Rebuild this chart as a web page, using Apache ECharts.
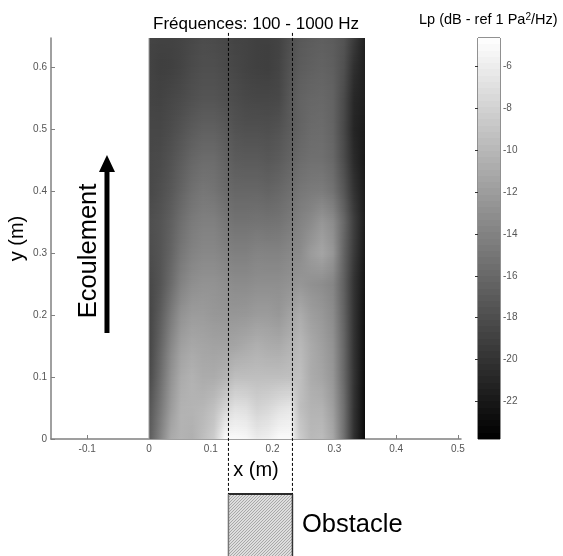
<!DOCTYPE html>
<html><head><meta charset="utf-8">
<style>html,body{margin:0;padding:0;background:#fff}#c{width:563px;height:556px}</style>
<script src="https://cdn.jsdelivr.net/npm/echarts@6/dist/echarts.min.js"></script>
</head><body><div id="c"></div>
<script>
const xNodes=[0,0.0175,0.035,0.0525,0.07,0.0875,0.105,0.1225,0.14,0.1575,0.175,0.1925,0.21,0.2275,0.245,0.2625,0.28,0.2975,0.315,0.3325,0.35];
const yNodes=[0.65,0.60,0.55,0.50,0.45,0.40,0.35,0.30,0.25,0.20,0.15,0.10,0.05,0];
const lpY065=[-18.7,-18.8,-18.8,-18.7,-18.4,-18.1,-18.2,-18.4,-18.7,-18.8,-19.0,-19.0,-18.8,-17.9,-17.2,-16.9,-16.7,-16.9,-17.5,-19.3,-21.4];
const lpY060=[-18.8,-19.1,-19.0,-18.7,-18.2,-17.9,-17.9,-18.2,-18.5,-18.8,-19.0,-19.1,-18.7,-17.6,-16.9,-16.6,-16.4,-16.7,-17.8,-20.2,-21.5];
const lpY055=[-18.7,-18.8,-18.5,-18.2,-17.8,-17.5,-17.5,-17.8,-18.1,-18.4,-18.5,-18.5,-18.4,-17.2,-16.4,-16.1,-16.0,-16.4,-18.2,-20.8,-21.5];
const lpY050=[-18.5,-18.5,-18.1,-17.6,-17.0,-16.6,-16.6,-17.0,-17.6,-17.8,-17.8,-17.9,-17.6,-16.9,-16.3,-15.8,-15.7,-16.3,-18.4,-21.0,-21.8];
const lpY045=[-18.4,-18.2,-17.6,-16.9,-16.1,-15.7,-15.7,-16.3,-16.9,-17.0,-17.0,-17.2,-16.9,-16.3,-15.7,-15.4,-15.4,-16.0,-18.1,-20.6,-22.0];
const lpY040=[-18.4,-17.9,-17.2,-16.3,-15.4,-14.9,-15.1,-15.7,-16.1,-16.1,-16.1,-16.3,-16.0,-15.5,-14.9,-14.6,-14.5,-15.2,-17.3,-20.0,-21.8];
const lpY035=[-17.9,-17.5,-16.6,-15.5,-14.6,-14.2,-14.2,-14.8,-15.2,-15.2,-15.1,-15.2,-15.1,-14.6,-14.0,-13.4,-12.5,-13.3,-16.0,-19.1,-21.7];
const lpY030=[-18.1,-17.5,-16.3,-14.9,-14.0,-13.6,-13.6,-14.0,-14.2,-14.2,-13.9,-14.0,-14.0,-13.6,-13.3,-12.1,-11.4,-12.5,-16.3,-19.4,-22.0];
const lpY025=[-18.5,-17.5,-15.7,-14.0,-13.1,-12.8,-12.8,-13.1,-13.3,-13.3,-13.1,-13.1,-13.1,-12.8,-12.5,-12.9,-13.2,-13.8,-16.6,-20.0,-22.3];
const lpY020=[-18.7,-16.9,-14.6,-12.8,-12.1,-12.1,-12.4,-12.5,-12.5,-12.4,-12.1,-12.1,-12.4,-11.6,-10.9,-11.9,-12.4,-13.3,-16.4,-20.0,-22.6];
const lpY015=[-18.7,-16.3,-13.6,-11.8,-11.2,-11.4,-11.6,-11.6,-11.4,-11.0,-10.6,-10.9,-11.0,-10.4,-9.9,-11.0,-11.8,-12.8,-16.1,-20.0,-22.7];
const lpY010=[-18.4,-15.7,-12.8,-11.0,-10.4,-10.9,-10.9,-10.4,-9.5,-9.5,-9.5,-9.5,-9.5,-9.4,-9.4,-10.9,-11.4,-12.5,-16.0,-19.9,-22.9];
const lpY005=[-17.5,-14.9,-12.1,-10.4,-10.3,-10.1,-9.4,-7.9,-6.9,-7.1,-8.0,-7.6,-6.9,-6.5,-9.5,-10.3,-10.4,-11.9,-15.5,-20.0,-23.0];
const lpY000=[-17.0,-14.0,-11.0,-10.3,-10.6,-9.5,-8.4,-5.0,-5.0,-5.2,-6.1,-5.8,-5.0,-5.0,-8.4,-9.9,-9.7,-11.2,-15.4,-20.2,-23.2];
const lpRows=[lpY065,lpY060,lpY055,lpY050,lpY045,lpY040,lpY035,lpY030,lpY025,lpY020,lpY015,lpY010,lpY005,lpY000];

const xTicks=[-0.1,0,0.1,0.2,0.3,0.4,0.5];
const yTicks=[0,0.1,0.2,0.3,0.4,0.5,0.6];
const cbTicks=[-22,-20,-18,-16,-14,-12,-10,-8,-6];
const cbMin=-23.8, cbMax=-4.63;
const obstacleEdges=[0.1286,0.2322];
const dashSpanY=[-0.0887,0.655];
const obstacleSpanY=[-0.19,-0.0887];
const arrowX=-0.068, arrowSpanY=[0.171,0.4306,0.458];
const FONT='"Liberation Sans",Arial,sans-serif';

function grey(v){
  const g=Math.max(0,Math.min(255,Math.round((v-cbMin)/(cbMax-cbMin)*255)));
  return 'rgb('+g+','+g+','+g+')';
}
const cells=[];
for(let r=0;r<yNodes.length-1;r++)for(let c=0;c<xNodes.length-1;c++){
  cells.push([xNodes[c],yNodes[r+1],xNodes[c+1],yNodes[r],lpRows[r][c],lpRows[r][c+1],lpRows[r+1][c],lpRows[r+1][c+1]]);
}
function renderCell(p,api){
  const a=api.coord([api.value(0),api.value(3)]), b=api.coord([api.value(2),api.value(1)]);
  const tl=api.value(4),tr=api.value(5),bl=api.value(6),br=api.value(7);
  const x0=Math.round(a[0]),x1=Math.round(b[0]),y0=Math.round(a[1]),y1=Math.round(b[1]);
  const kids=[],n=Math.max(1,y1-y0>>1);
  for(let i=0;i<n;i++){
    const t=(i+0.5)/n,ya=y0+Math.round((y1-y0)*i/n),yb=y0+Math.round((y1-y0)*(i+1)/n);
    const l=tl+(bl-tl)*t,rr=tr+(br-tr)*t;
    kids.push({type:'rect',silent:true,shape:{x:x0,y:ya,width:x1-x0,height:yb-ya},
      style:{fill:new echarts.graphic.LinearGradient(0,0,1,0,[{offset:0,color:grey(l)},{offset:1,color:grey(rr)}])}});
  }
  return {type:'group',children:kids};
}
const cbLevels=[];
for(let i=0;i<64;i++)cbLevels.push([cbMin+(cbMax-cbMin)*i/64,cbMin+(cbMax-cbMin)*(i+1)/64]);

const hatch=document.createElement('canvas');hatch.width=hatch.height=3;
(function(){const h=hatch.getContext('2d');h.fillStyle='#dedede';h.fillRect(0,0,3,3);h.fillStyle='#a8a8a8';
 h.fillRect(2,0,1,1);h.fillRect(1,1,1,1);h.fillRect(0,2,1,1);})();

const tickLabel={color:'#555',fontSize:10,fontFamily:FONT};
const chart=echarts.init(document.getElementById('c'),null,{renderer:'canvas'});
chart.setOption({
  animation:false,backgroundColor:'#fff',
  title:{text:'Fréquences: 100 - 1000 Hz',left:251,top:11,textAlign:'center',
    textStyle:{fontFamily:FONT,fontSize:17,fontWeight:'normal',color:'#000'}},
  grid:[{left:51,top:38,width:410,height:401,show:false,outerBoundsMode:'none',containLabel:false},
        {left:478,top:38,width:22,height:401,show:true,borderColor:'#222',borderWidth:1,backgroundColor:'transparent',outerBoundsMode:'none',containLabel:false}],
  xAxis:[
    {gridIndex:0,type:'value',min:-0.1586,max:0.505,splitLine:{show:false},
     name:'x (m)',nameLocation:'middle',nameGap:21,nameTextStyle:{fontFamily:FONT,fontSize:20,color:'#000'},
     axisLine:{show:true,onZero:false,lineStyle:{color:'#808080',width:1.5}},
     axisTick:{show:true,inside:true,length:4,customValues:xTicks,lineStyle:{color:'#808080'}},
     axisLabel:Object.assign({customValues:xTicks,margin:5,formatter:v=>String(v)},tickLabel)},
    {gridIndex:1,type:'value',min:0,max:1,show:false}
  ],
  yAxis:[
    {gridIndex:0,type:'value',min:0,max:0.6468,splitLine:{show:false},
     name:'y (m)',nameLocation:'middle',nameGap:24,nameMoveOverlap:false,nameTextStyle:{fontFamily:FONT,fontSize:20,color:'#000'},
     axisLine:{show:true,onZero:false,lineStyle:{color:'#808080',width:1.5}},
     axisTick:{show:true,inside:true,length:4,customValues:yTicks,lineStyle:{color:'#808080'}},
     axisLabel:Object.assign({customValues:yTicks,margin:4,formatter:v=>String(v)},tickLabel)},
    {gridIndex:1,type:'value',min:cbMin,max:cbMax,position:'right',splitLine:{show:false},
     axisLine:{show:false},
     axisTick:{show:true,inside:true,length:3,customValues:cbTicks,lineStyle:{color:'#333'}},
     axisLabel:Object.assign({customValues:cbTicks,margin:3,formatter:v=>String(v)},tickLabel)},
    {gridIndex:1,type:'value',min:cbMin,max:cbMax,position:'left',splitLine:{show:false},
     axisLine:{show:false},axisLabel:{show:false},
     axisTick:{show:true,inside:true,length:3,customValues:cbTicks,lineStyle:{color:'#333'}}}
  ],
  series:[
    {type:'custom',name:'Lp',xAxisIndex:0,yAxisIndex:0,clip:true,silent:true,renderItem:renderCell,data:cells,z:1},
    {type:'custom',name:'heatEdge',xAxisIndex:0,yAxisIndex:0,clip:false,silent:true,z:2,data:[[0]],
     renderItem:(p,api)=>{
       const a=api.coord([0,0.6468]),b=api.coord([0,0]);
       return {type:'line',shape:{x1:a[0],y1:a[1],x2:b[0],y2:b[1]},style:{stroke:'#a0a0a0',lineWidth:1}};
     }},
    {type:'custom',name:'colorbar',xAxisIndex:1,yAxisIndex:1,clip:true,silent:true,z:1,data:cbLevels,
     renderItem:(p,api)=>{
       const a=api.coord([0,api.value(1)]),b=api.coord([1,api.value(0)]);
       const y0=Math.round(a[1]),y1=Math.round(b[1]);
       return {type:'rect',shape:{x:a[0],y:y0,width:b[0]-a[0],height:y1-y0},style:{fill:grey((api.value(0)+api.value(1))/2)}};
     }},
    {type:'custom',name:'obstacle',xAxisIndex:0,yAxisIndex:0,clip:false,silent:true,z:3,data:[[obstacleEdges[0],obstacleEdges[1],obstacleSpanY[0],obstacleSpanY[1]]],
     renderItem:(p,api)=>{
       const a=api.coord([api.value(0),api.value(3)]),b=api.coord([api.value(1),api.value(2)]);
       return {type:'group',children:[
         {type:'rect',shape:{x:a[0],y:a[1],width:b[0]-a[0],height:b[1]-a[1]},style:{fill:{image:hatch,repeat:'repeat'}}},
         {type:'line',shape:{x1:a[0],y1:a[1],x2:b[0],y2:a[1]},style:{stroke:'#2a2a2a',lineWidth:2}},
         {type:'line',shape:{x1:a[0],y1:a[1],x2:a[0],y2:b[1]},style:{stroke:'#777',lineWidth:1.5}},
         {type:'line',shape:{x1:b[0],y1:a[1],x2:b[0],y2:b[1]},style:{stroke:'#333',lineWidth:1.5}}
       ]};
     }},
    {type:'custom',name:'edges',xAxisIndex:0,yAxisIndex:0,clip:false,silent:true,z:4,data:obstacleEdges.map(v=>[v]),
     renderItem:(p,api)=>{
       const a=api.coord([api.value(0),dashSpanY[1]]),b=api.coord([api.value(0),dashSpanY[0]]);
       return {type:'line',shape:{x1:a[0],y1:a[1],x2:b[0],y2:b[1]},style:{stroke:'#000',lineWidth:1,lineDash:[3,2]}};
     }},
    {type:'custom',name:'arrow',xAxisIndex:0,yAxisIndex:0,clip:false,silent:true,z:4,data:[[arrowX]],
     renderItem:(p,api)=>{
       const s=api.coord([arrowX,arrowSpanY[0]]),h=api.coord([arrowX,arrowSpanY[1]]),t=api.coord([arrowX,arrowSpanY[2]]);
       return {type:'group',children:[
         {type:'line',shape:{x1:s[0],y1:s[1],x2:h[0],y2:h[1]},style:{stroke:'#000',lineWidth:5}},
         {type:'polygon',shape:{points:[[t[0],t[1]],[t[0]+8,h[1]],[t[0]-8,h[1]]]},style:{fill:'#000'}}
       ]};
     }}
  ],
  graphic:[
    {type:'text',left:419,top:12,silent:true,style:{rich:{a:{fontFamily:FONT,fontSize:14.5,fill:'#000'},s:{fontFamily:FONT,fontSize:10,fill:'#000',verticalAlign:'top',padding:[0,0,6,0]}},
      text:'{a|Lp (dB - ref 1 Pa}{s|2}{a|/Hz)}'}},
    {type:'group',x:89,y:251,rotation:Math.PI/2,silent:true,children:[
      {type:'text',style:{text:'Ecoulement',x:0,y:0,align:'center',verticalAlign:'middle',fontFamily:FONT,fontSize:25.5,fill:'#000'}}]},
    {type:'text',left:302,top:512,silent:true,style:{text:'Obstacle',fontFamily:FONT,fontSize:25.5,fill:'#000'}}
  ]
});
</script></body></html>
